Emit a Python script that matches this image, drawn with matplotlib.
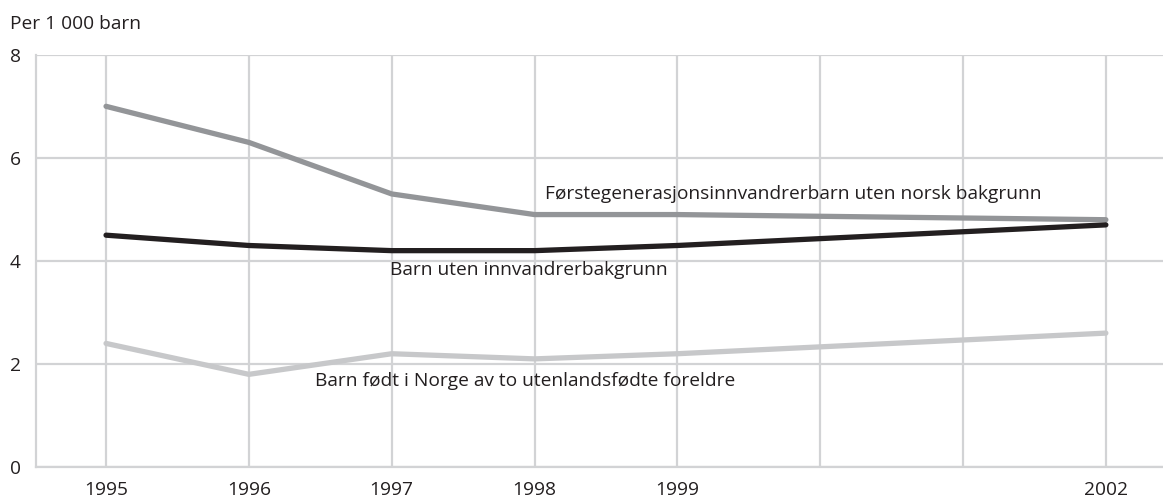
import matplotlib
matplotlib.use("Agg")
import matplotlib.pyplot as plt

# Data; no values for 2000 and 2001
years = [1995, 1996, 1997, 1998, 1999, 2002]
first_gen = [7.0, 6.3, 5.3, 4.9, 4.9, 4.8]
no_background = [4.5, 4.3, 4.2, 4.2, 4.3, 4.7]
born_norway = [2.4, 1.8, 2.2, 2.1, 2.2, 2.6]

grid_years = [1995, 1996, 1997, 1998, 1999, 2000, 2001, 2002]
tick_labels = ["1995", "1996", "1997", "1998", "1999", "", "", "2002"]
y_ticks = [0, 2, 4, 6, 8]

label_first = "Førstegenerasjonsinnvandrerbarn uten norsk bakgrunn"
label_none = "Barn uten innvandrerbakgrunn"
label_born = "Barn født i Norge av to utenlandsfødte foreldre"

plt.rcParams["font.family"] = ["Open Sans", "DejaVu Sans"]
GRID = "#d2d3d5"
TEXT = "#231f20"
FS = 13.8

fig = plt.figure(figsize=(11.63, 4.98), dpi=100)
ax = fig.add_axes([0.031, 0.062, 0.969, 0.828])

ax.set_xlim(1994.51, 2002.4)
ax.set_ylim(0, 8)
ax.set_xticks(grid_years)
ax.set_xticklabels(tick_labels, fontsize=FS, color=TEXT)
ax.set_yticks(y_ticks)
ax.set_yticklabels([str(v) for v in y_ticks], fontsize=FS, color=TEXT)
ax.tick_params(length=0)
ax.tick_params(axis="x", pad=10)
ax.tick_params(axis="y", pad=11)

ax.grid(True, color=GRID, linewidth=1.6)
ax.set_axisbelow(True)
for side in ["top", "right"]:
    ax.spines[side].set_visible(False)
for side in ["left", "bottom"]:
    ax.spines[side].set_color(GRID)
    ax.spines[side].set_linewidth(1.6)

ax.plot(years, first_gen, color="#939598", linewidth=3.8, solid_capstyle="round")
ax.plot(years, no_background, color=TEXT, linewidth=3.8, solid_capstyle="round")
ax.plot(years, born_norway, color="#c7c8ca", linewidth=3.8, solid_capstyle="round")

ax.text(1998.07, 5.3, label_first, fontsize=FS, color=TEXT, va="center")
ax.text(1996.99, 3.83, label_none, fontsize=FS, color=TEXT, va="center")
ax.text(1996.46, 1.67, label_born, fontsize=FS, color=TEXT, va="center")

fig.text(0.009, 0.952, "Per 1 000 barn", fontsize=FS, color=TEXT, va="center")

fig.savefig("out.png", dpi=100)
